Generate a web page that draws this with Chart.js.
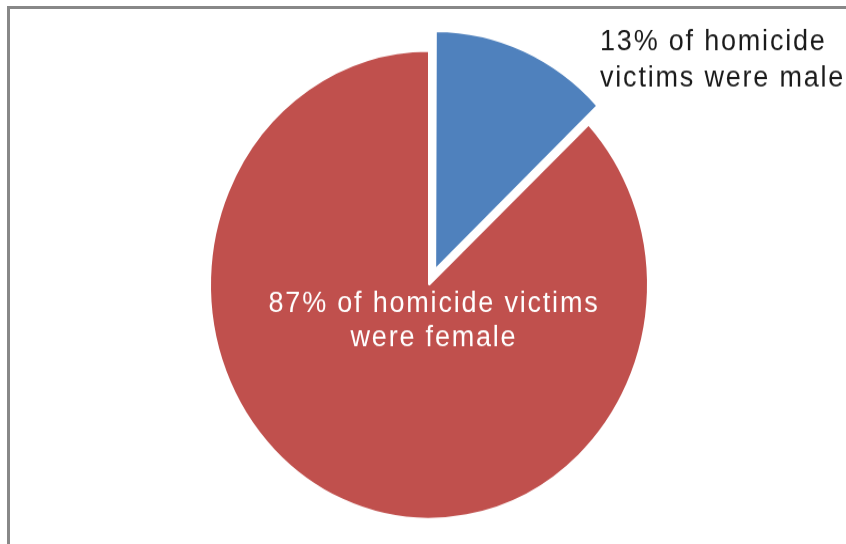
<!DOCTYPE html>
<html>
<head>
<meta charset="utf-8">
<script src="https://cdn.jsdelivr.net/npm/chart.js@4/dist/chart.umd.min.js"></script>
<style>
  html, body { margin: 0; padding: 0; background: #fff; overflow: hidden; }
  #frame {
    position: absolute; left: 7px; top: 6px; width: 900px; height: 600px;
    border: 3px solid #888; box-sizing: border-box;
  }
  /* the reference pie is slightly taller than wide */
  #wrap {
    position: absolute; left: 0; top: 0; width: 846px; height: 509px;
    transform: scaleY(1.0685); transform-origin: 0 0;
  }
</style>
</head>
<body>
<div id="frame"></div>
<div id="wrap"><canvas id="pie"></canvas></div>
<script>
// datos del gráfico
const sexes = ['Male', 'Female'];
const shares = [13, 87];
const sliceColors = ['#4F81BD', '#C0504D'];
const explode = [62, 0];

// textos de las etiquetas
const maleLines = [shares[0] + '% of homicide', 'victims were male'];
const femaleLines = [shares[1] + '% of homicide victims', 'were female'];

const labelPlugin = {
    id: 'sliceLabels',
    afterDatasetsDraw(chart) {
        const ctx = chart.ctx;
        const arc = chart.getDatasetMeta(0).data[1];
        const cx = arc.x, cy = arc.y;
        ctx.save();
        ctx.font = '27px "Liberation Sans", Arial, sans-serif';
        ctx.letterSpacing = '1.8px';
        ctx.textBaseline = 'alphabetic';

        // etiqueta dentro del sector rojo
        ctx.fillStyle = '#ffffff';
        ctx.textAlign = 'center';
        ctx.fillText(femaleLines[0], cx + 5, cy + 25.5);
        ctx.fillText(femaleLines[1], cx + 5, cy + 57.5);

        // etiqueta fuera, a la derecha del sector azul
        ctx.fillStyle = '#1a1a1a';
        ctx.textAlign = 'left';
        ctx.fillText(maleLines[0], cx + 171, cy - 220);
        ctx.fillText(maleLines[1], cx + 171, cy - 185.5);
        ctx.restore();
    }
};

new Chart(document.getElementById('pie'), {
    type: 'pie',
    data: {
        labels: sexes,
        datasets: [{
            data: shares,
            backgroundColor: sliceColors,
            borderColor: '#ffffff',
            borderWidth: 2,
            offset: explode,
            radius: 219
        }]
    },
    options: {
        responsive: true,
        maintainAspectRatio: false,
        animation: false,
        layout: { padding: { left: 12, top: 24, right: 0, bottom: 0 } },
        plugins: {
            legend: { display: false },
            tooltip: { enabled: false }
        }
    },
    plugins: [labelPlugin]
});
</script>
</body>
</html>
